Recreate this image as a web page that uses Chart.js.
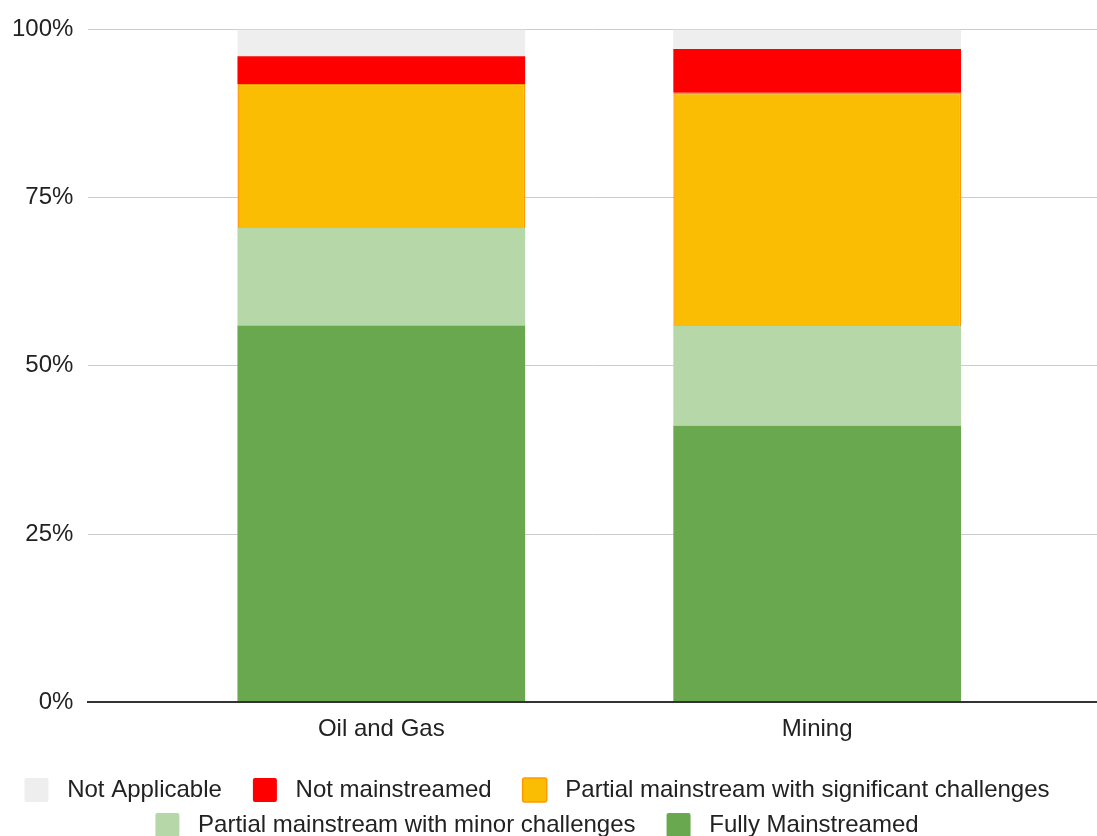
<!DOCTYPE html>
<html>
<head>
<meta charset="utf-8">
<title>Mainstreaming by sector</title>
<script src="https://cdn.jsdelivr.net/npm/chart.js@4.4.1/dist/chart.umd.min.js"></script>
<style>
    html, body { margin: 0; padding: 0; background: #ffffff; }
    #wrap { width: 1097px; height: 836px; position: relative; }
</style>
</head>
<body>
<div id="wrap"><canvas id="sectorChart"></canvas></div>
<script>
// Categories on the x axis
const sectors = ['Oil and Gas', 'Mining'];

// Shares per sector (%)
const fullyMainstreamed = [56.0, 41.1];
const partialMinor = [14.5, 14.8];
const partialSignificant = [21.4, 34.7];
const notMainstreamed = [4.1, 6.5];
const notApplicable = [4.0, 2.9];

// Y axis ticks
const yTicks = [0, 25, 50, 75, 100];

const colors = {
    full: '#6aa84f',
    minor: '#b6d7a8',
    significant: '#fbbc04',
    significantEdge: '#ff9900',
    notMain: '#ff0000',
    na: '#eeeeee',
    text: '#222222',
    grid: '#cccccc',
    axis: '#333333'
};

const font = "Arial, 'Liberation Sans', sans-serif";

function toPoints(values) {
    return values.map((v, i) => ({ x: i, y: v }));
}

function series(label, values, color, edge) {
    return {
        label: label,
        data: toPoints(values),
        backgroundColor: color,
        borderColor: edge || color,
        borderWidth: edge ? 1.5 : 0,
        categoryPercentage: 1,
        barPercentage: 0.66
    };
}

// datasets go bottom to top; legend is reversed to match the reference
const datasets = [
    series('Fully Mainstreamed', fullyMainstreamed, colors.full),
    series('Partial mainstream with minor challenges', partialMinor, colors.minor),
    series('Partial mainstream with significant challenges', partialSignificant, colors.significant, colors.significantEdge),
    series('Not mainstreamed', notMainstreamed, colors.notMain),
    series('Not Applicable', notApplicable, colors.na)
];

new Chart(document.getElementById('sectorChart'), {
    type: 'bar',
    data: { datasets: datasets },
    options: {
        responsive: true,
        maintainAspectRatio: false,
        animation: false,
        layout: { padding: { top: 27, left: -3, right: 0, bottom: -11 } },
        plugins: {
            tooltip: { enabled: false },
            legend: {
                position: 'bottom',
                reverse: true,
                labels: {
                    color: colors.text,
                    font: { family: font, size: 24 },
                    boxWidth: 24,
                    boxHeight: 24,
                    padding: 11,
                    useBorderRadius: true,
                    borderRadius: 2,
                    // a little air around each label like the original legend
                    generateLabels: chart => Chart.defaults.plugins.legend.labels.generateLabels(chart).map(item => {
                        item.text = ' ' + item.text + '   ';
                        return item;
                    })
                }
            }
        },
        scales: {
            x: {
                type: 'linear',
                stacked: true,
                min: -0.672,
                max: 1.642,
                offset: false,
                grid: { display: false, z: 1 },
                border: { display: true, color: colors.axis, width: 2, z: 1 },
                afterBuildTicks: scale => {
                    scale.ticks = sectors.map((s, i) => ({ value: i }));
                },
                afterFit: scale => {
                    scale.height += 18;
                },
                ticks: {
                    color: colors.text,
                    font: { family: font, size: 24 },
                    padding: 5,
                    maxRotation: 0,
                    callback: value => sectors[value]
                }
            },
            y: {
                stacked: true,
                min: 0,
                max: 100,
                afterBuildTicks: scale => {
                    scale.ticks = yTicks.map(v => ({ value: v }));
                },
                grid: { color: colors.grid, lineWidth: 1, drawTicks: false },
                border: { display: false },
                ticks: {
                    color: colors.text,
                    font: { family: font, size: 24 },
                    padding: 15,
                    callback: value => value + '%'
                }
            }
        }
    }
});
</script>
</body>
</html>
